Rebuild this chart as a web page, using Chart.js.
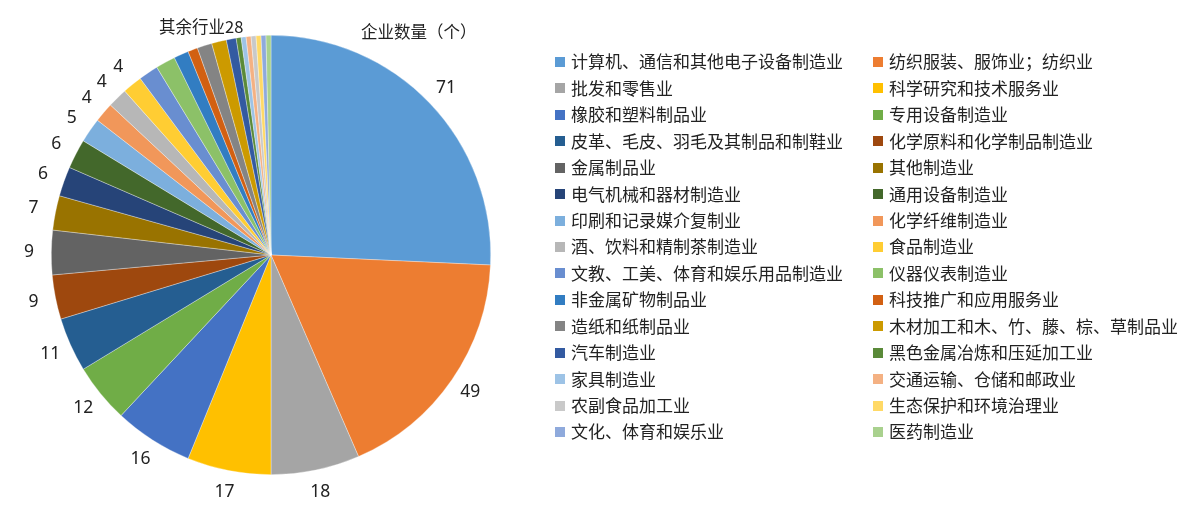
<!DOCTYPE html>
<html>
<head>
<meta charset="utf-8">
<script src="https://cdn.jsdelivr.net/npm/chart.js@4/dist/chart.umd.min.js"></script>
<style>
  html, body { margin: 0; padding: 0; background: #ffffff; }
  #wrap { position: relative; width: 1198px; height: 518px; }
</style>
</head>
<body>
<div id="wrap"><canvas id="c" width="1198" height="518"></canvas></div>
<script>
const categories = [
  "计算机、通信和其他电子设备制造业", "纺织服装、服饰业；纺织业",
  "批发和零售业", "科学研究和技术服务业",
  "橡胶和塑料制品业", "专用设备制造业",
  "皮革、毛皮、羽毛及其制品和制鞋业", "化学原料和化学制品制造业",
  "金属制品业", "其他制造业",
  "电气机械和器材制造业", "通用设备制造业",
  "印刷和记录媒介复制业", "化学纤维制造业",
  "酒、饮料和精制茶制造业", "食品制造业",
  "文教、工美、体育和娱乐用品制造业", "仪器仪表制造业",
  "非金属矿物制品业", "科技推广和应用服务业",
  "造纸和纸制品业", "木材加工和木、竹、藤、棕、草制品业",
  "汽车制造业", "黑色金属冶炼和压延加工业",
  "家具制造业", "交通运输、仓储和邮政业",
  "农副食品加工业", "生态保护和环境治理业",
  "文化、体育和娱乐业", "医药制造业"
];
const companyCounts = [71, 49, 18, 17, 16, 12, 11, 9, 9, 7, 6, 6, 5, 4, 4, 4,
                       4, 4, 3, 2, 3, 3, 2, 1, 1, 1, 1, 1, 1, 1];
const sliceColors = [
  "#5B9BD5", "#ED7D31", "#A5A5A5", "#FFC000", "#4472C4", "#70AD47",
  "#255E91", "#9E480E", "#636363", "#997300", "#264478", "#43682B",
  "#7CAFDD", "#F1975A", "#B7B7B7", "#FFCD33", "#698ED0", "#8CC168",
  "#327DC2", "#D26012", "#848484", "#CC9A00", "#335AA1", "#5A8A39",
  "#9DC3E6", "#F4B183", "#C9C9C9", "#FFD966", "#8FAADC", "#A9D18E"
];
const seriesName = "企业数量（个）";
const labeledCount = 16;
const otherLabel = "其余行业";

const FONT = '"Noto Sans", "Noto Sans CJK SC", sans-serif';
const CJK = '"Noto Sans CJK SC", "Noto Sans", sans-serif';
const TEXT = "#222222";

const labelPlugin = {
  id: "pieLabels",
  afterDatasetsDraw(chart) {
    const ctx = chart.ctx;
    const meta = chart.getDatasetMeta(0);
    const arcs = meta.data;
    const r0 = 242;
    ctx.save();
    ctx.fillStyle = TEXT;
    ctx.textAlign = "center";
    ctx.textBaseline = "middle";
    ctx.font = "17.5px " + FONT;
    for (let i = 0; i < labeledCount && i < arcs.length; i++) {
      const a = arcs[i];
      const mid = (a.startAngle + a.endAngle) / 2;
      ctx.fillText(String(companyCounts[i]), a.x + r0 * Math.cos(mid), a.y + r0 * Math.sin(mid));
    }
    // grouped label for the remaining slices
    const first = arcs[labeledCount], last = arcs[arcs.length - 1];
    const mid = (first.startAngle + last.endAngle) / 2;
    let rest = 0;
    for (let i = labeledCount; i < companyCounts.length; i++) rest += companyCounts[i];
    ctx.font = "16.5px " + CJK;
    ctx.fillText(otherLabel + rest, first.x + r0 * Math.cos(mid) + 6, first.y + r0 * Math.sin(mid) + 2);
    // series title
    ctx.font = "16.5px " + CJK;
    ctx.textAlign = "left";
    ctx.fillText(seriesName, 361, 32);
    ctx.restore();
  },
  afterDraw(chart) {
    const ctx = chart.ctx;
    const ds = chart.data.datasets[0];
    ctx.save();
    ctx.textBaseline = "middle";
    ctx.textAlign = "left";
    ctx.font = "17px " + CJK;
    const colX = [555, 873];
    const y0 = 62, dy = 26.43;
    chart.data.labels.forEach((lab, i) => {
      const col = i % 2, row = Math.floor(i / 2);
      const y = y0 + row * dy;
      ctx.fillStyle = ds.backgroundColor[i];
      ctx.fillRect(colX[col], Math.round(y - 5), 10, 10);
      ctx.fillStyle = TEXT;
      ctx.fillText(lab, colX[col] + 16, y);
    });
    ctx.restore();
  }
};

new Chart(document.getElementById("c"), {
  type: "pie",
  data: {
    labels: categories,
    datasets: [{
      label: seriesName,
      data: companyCounts,
      backgroundColor: sliceColors,
      borderColor: "rgba(255,255,255,0.55)",
      borderWidth: 0.6
    }]
  },
  options: {
    responsive: false,
    animation: false,
    layout: { padding: { left: 51, top: 35, right: 707, bottom: 43 } },
    plugins: {
      legend: { display: false },
      tooltip: { enabled: false },
      title: { display: false }
    }
  },
  plugins: [labelPlugin]
});
</script>
</body>
</html>
